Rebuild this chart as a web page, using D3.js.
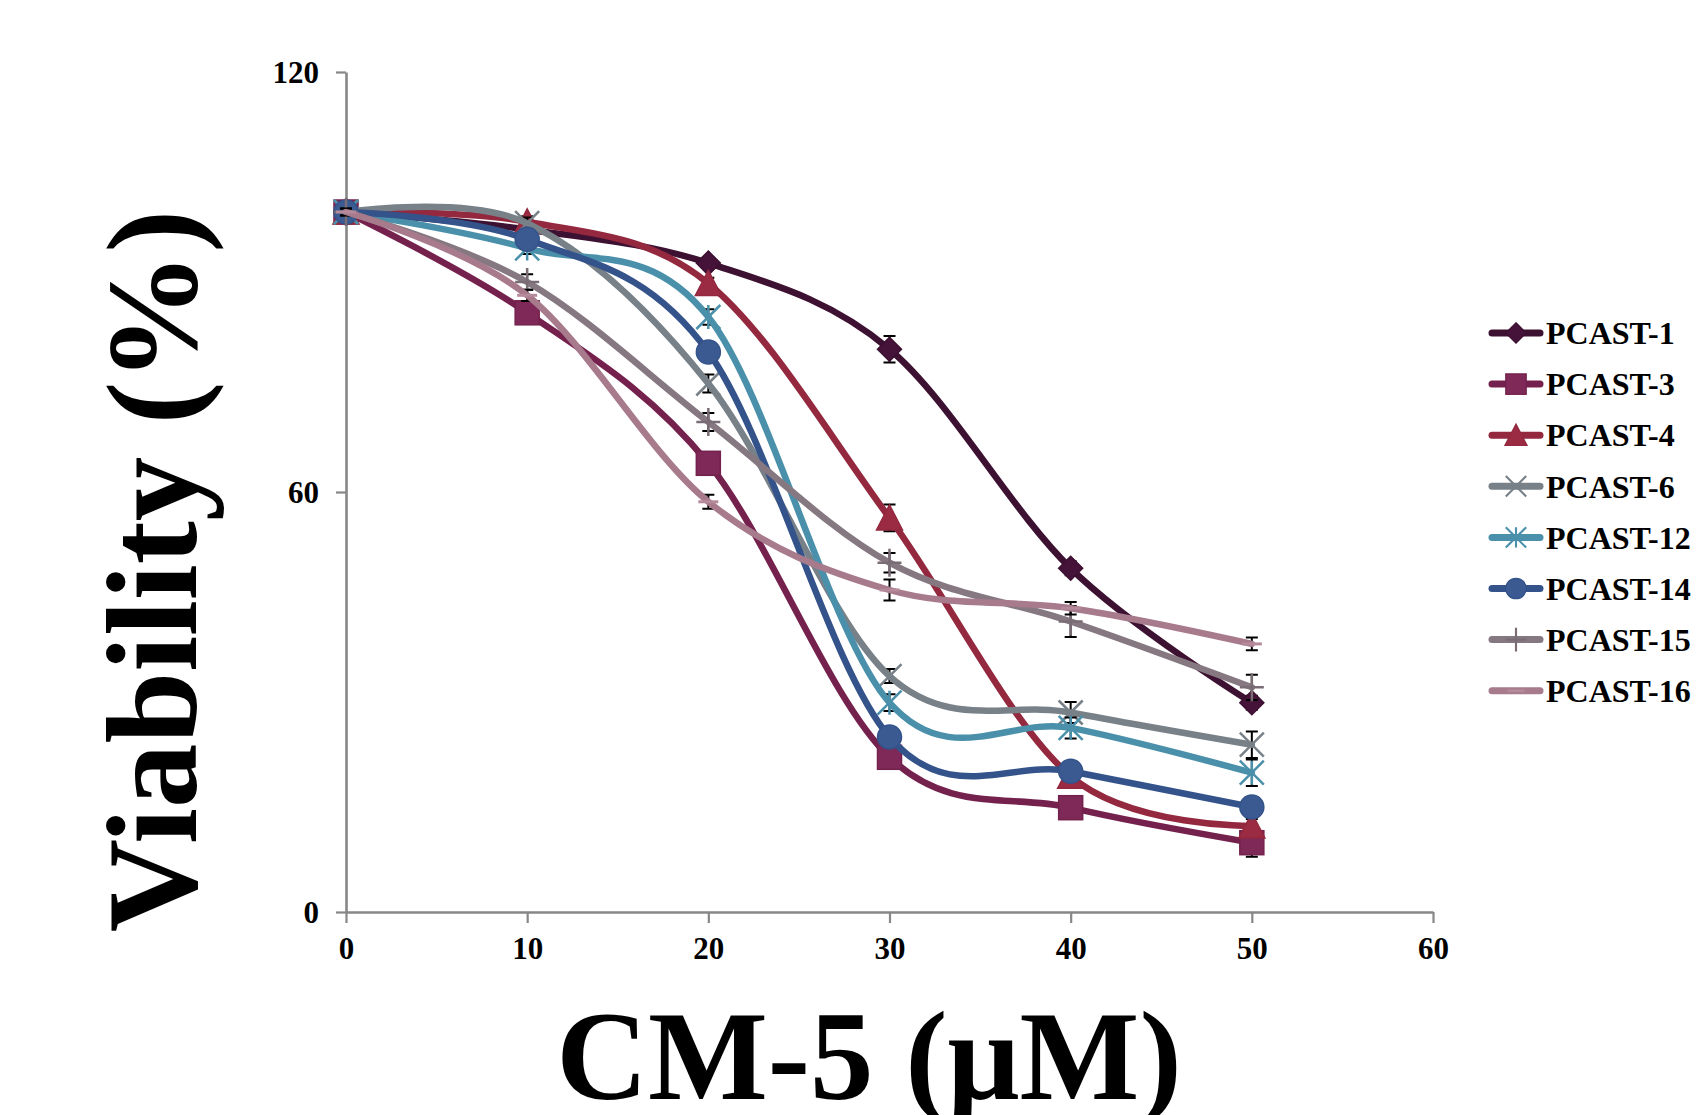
<!DOCTYPE html>
<html>
<head>
<meta charset="utf-8">
<script src="https://cdn.jsdelivr.net/npm/d3@7"></script>
<style>
  html, body { margin: 0; padding: 0; background: #fff; }
  svg { display: block; }
</style>
</head>
<body>
<svg id="chart"></svg>
<script>
// concentrations (uM)
const doses = [0, 10, 20, 30, 40, 50];

const seriesNames = ["PCAST-1", "PCAST-3", "PCAST-4", "PCAST-6", "PCAST-12", "PCAST-14", "PCAST-15", "PCAST-16"];

// viability (%)
const pcast1  = [100, 97.5, 92.7, 80.4, 49.1, 29.9];
const pcast3  = [100, 85.6, 64.1, 22.1, 14.9, 9.9];
const pcast4  = [100, 98.6, 89.8, 56.3, 19.4, 12.3];
const pcast6  = [100, 98.4, 75.5, 33.7, 28.5, 23.9];
const pcast12 = [100, 94.8, 85.0, 29.9, 26.3, 19.9];
const pcast14 = [100, 96.1, 80.0, 25.0, 20.1, 15.0];
const pcast15 = [100, 90.0, 70.0, 49.9, 41.5, 32.1];
const pcast16 = [100, 88.1, 58.6, 46.0, 43.4, 38.3];

// error bars (+/-)
const err1  = [0.5, 0.8, 0.8, 1.9, 1.0, 1.0];
const err3  = [0.5, 0.8, 0.8, 1.0, 1.0, 2.0];
const err4  = [0.5, 0.8, 0.8, 1.9, 1.0, 1.0];
const err6  = [0.5, 0.8, 1.3, 1.0, 1.5, 1.9];
const err12 = [0.5, 0.8, 1.1, 1.2, 1.5, 1.9];
const err14 = [0.5, 0.8, 0.8, 1.0, 1.0, 1.0];
const err15 = [0.5, 1.1, 1.3, 1.4, 2.2, 1.8];
const err16 = [0.5, 0.8, 1.0, 1.5, 0.9, 0.9];

const xTicks = [0, 10, 20, 30, 40, 50, 60];
const yTicks = [0, 60, 120];

const colors = ["#3d1131", "#74214d", "#93283e", "#788088", "#4a90aa", "#34538a", "#867880", "#a77a8c"];
const fills  = ["#45133a", "#7e2957", "#9b2b42", "#7d858c", "#4f95ae", "#3a5a91", "#7a6c74", "#b58a9a"];
const shapes = ["diamond", "square", "triangle", "x", "star", "circle", "plus", "dash"];

const values = [pcast1, pcast3, pcast4, pcast6, pcast12, pcast14, pcast15, pcast16];
const errors = [err1, err3, err4, err6, err12, err14, err15, err16];

const series = seriesNames.map((name, i) => ({
  name, color: colors[i], fill: fills[i], shape: shapes[i],
  points: doses.map((d, j) => ({x: d, y: values[i][j], e: errors[i][j]}))
}));

const width = 1705, height = 1115;
const svg = d3.select("#chart").attr("width", width).attr("height", height);

const x = d3.scaleLinear().domain([0, 60]).range([346, 1433]);
const y = d3.scaleLinear().domain([0, 120]).range([912, 72]);

const font = "'Liberation Serif', 'Times New Roman', serif";
const axisColor = "#878787";

// axes
const gx = svg.append("g")
    .attr("transform", `translate(0,${y(0)})`)
    .call(d3.axisBottom(x).tickValues(xTicks).tickSize(11).tickSizeOuter(0).tickPadding(14));
const gy = svg.append("g")
    .attr("transform", `translate(${x(0)},0)`)
    .call(d3.axisLeft(y).tickValues(yTicks).tickSize(10).tickSizeOuter(0).tickPadding(17));

[gx, gy].forEach(g => {
  g.select(".domain").attr("stroke", axisColor).attr("stroke-width", 2.6);
  g.selectAll(".tick line").attr("stroke", axisColor).attr("stroke-width", 2.2);
  g.selectAll(".tick text")
    .attr("fill", "#000")
    .style("font-family", font)
    .style("font-weight", "bold")
    .style("font-size", "31px");
});
gy.selectAll(".tick text").attr("dy", "0.34em");

// marker drawing
function marker(g, shape, color, fill) {
  const s = 12;
  if (shape === "diamond") {
    g.append("path").attr("d", `M0,${-s}L${s},0L0,${s}L${-s},0Z`).attr("fill", fill).attr("stroke", color).attr("stroke-width", 1.5);
  } else if (shape === "square") {
    g.append("rect").attr("x", -s).attr("y", -s).attr("width", 2 * s).attr("height", 2 * s)
      .attr("fill", fill).attr("stroke", color).attr("stroke-width", 1.5);
  } else if (shape === "triangle") {
    g.append("path").attr("d", `M0,${-s - 1}L${s + 1},${s}L${-s - 1},${s}Z`).attr("fill", fill).attr("stroke", color).attr("stroke-width", 1.5);
  } else if (shape === "circle") {
    g.append("circle").attr("r", s).attr("fill", fill).attr("stroke", color).attr("stroke-width", 1.5);
  } else if (shape === "x") {
    g.append("path").attr("d", `M${-s},${-s}L${s},${s}M${-s},${s}L${s},${-s}`).attr("stroke", color).attr("stroke-width", 2.5);
  } else if (shape === "star") {
    g.append("path").attr("d", `M${-s},${-s}L${s},${s}M${-s},${s}L${s},${-s}M0,${-s}L0,${s}`).attr("stroke", color).attr("stroke-width", 2.5);
  } else if (shape === "plus") {
    g.append("path").attr("d", `M0,${-s - 2}L0,${s + 2}M${-s},0L${s},0`).attr("stroke", fill).attr("stroke-width", 2.5);
  } else if (shape === "dash") {
    g.append("path").attr("d", `M${-s + 2},0L${s - 2},0`).attr("stroke", fill).attr("stroke-width", 3);
  }
}

const line = d3.line()
    .x(d => x(d.x))
    .y(d => y(d.y))
    .curve(d3.curveCardinal.tension(0));

const plot = svg.append("g");

series.forEach(s => {
  const g = plot.append("g");

  // error bars
  g.selectAll("path.err")
    .data(s.points)
    .join("path")
      .attr("class", "err")
      .attr("d", d => {
        const cx = x(d.x), y1 = y(d.y + d.e), y2 = y(d.y - d.e);
        return `M${cx - 6},${y1}H${cx + 6}M${cx},${y1}V${y2}M${cx - 6},${y2}H${cx + 6}`;
      })
      .attr("stroke", "#000")
      .attr("stroke-width", 2)
      .attr("fill", "none");

  g.append("path")
      .datum(s.points)
      .attr("d", line)
      .attr("fill", "none")
      .attr("stroke", s.color)
      .attr("stroke-width", 6.5)
      .attr("stroke-linecap", "round");

  g.selectAll("g.mk")
    .data(s.points)
    .join("g")
      .attr("class", "mk")
      .attr("transform", d => `translate(${x(d.x)},${y(d.y)})`)
      .each(function() { marker(d3.select(this), s.shape, s.color, s.fill); });
});

// legend
const legend = svg.append("g").attr("transform", "translate(1488,333)");
series.forEach((s, i) => {
  const row = legend.append("g").attr("transform", `translate(0,${i * 51.1})`);
  row.append("line")
      .attr("x1", 4).attr("x2", 52).attr("y1", 0).attr("y2", 0)
      .attr("stroke", s.color).attr("stroke-width", 7).attr("stroke-linecap", "round");
  const m = row.append("g").attr("transform", "translate(28,0) scale(0.85)");
  marker(m, s.shape, s.color, s.fill);
  row.append("text")
      .attr("x", 58).attr("y", 0).attr("dy", "0.35em")
      .style("font-family", font)
      .style("font-weight", "bold")
      .style("font-size", "32px")
      .text(s.name);
});

// axis titles
svg.append("text")
    .attr("x", 869).attr("y", 1099)
    .attr("text-anchor", "middle")
    .style("font-family", font)
    .style("font-weight", "bold")
    .style("font-size", "127px")
    .text("CM-5 (μM)");

svg.append("text")
    .attr("transform", "translate(196,571) rotate(-90)")
    .attr("text-anchor", "middle")
    .style("font-family", font)
    .style("font-weight", "bold")
    .style("font-size", "129px")
    .text("Viability (%)");
</script>
</body>
</html>
